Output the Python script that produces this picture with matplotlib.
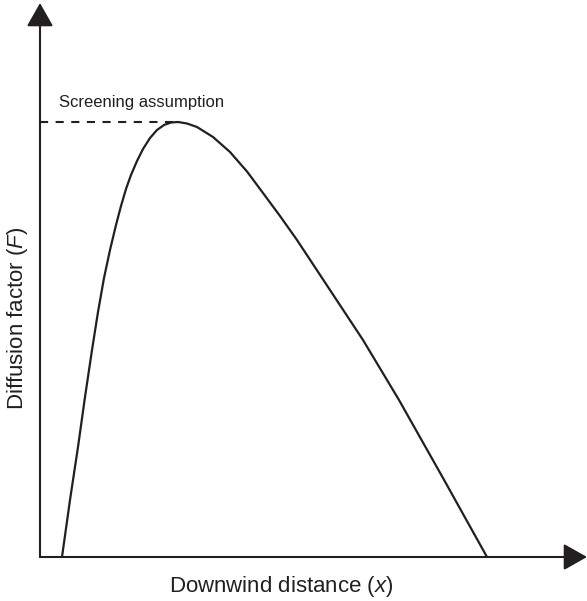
import numpy as np
import matplotlib
matplotlib.use("Agg")
import matplotlib.pyplot as plt

plt.rcParams['font.family'] = ['Liberation Sans', 'DejaVu Sans']
plt.rcParams['mathtext.fontset'] = 'custom'
plt.rcParams['mathtext.rm'] = 'Liberation Sans'
plt.rcParams['mathtext.it'] = 'Liberation Sans:italic'

# curve (arbitrary units, origin at the axes corner)
distance = [22, 30, 38, 45, 52, 58, 64, 70, 76, 81, 86, 91, 97, 103, 110, 117,
            124, 131, 138, 147, 157, 173, 190, 207, 223, 240, 257, 290, 323,
            359, 403, 447]
factor = [0, 57, 110, 160, 207, 245, 279, 307, 332, 351, 368, 382, 396, 408,
          419, 427, 432, 434.5, 435, 433.5, 430, 420, 405, 385.5, 364, 341, 317,
          267, 217, 157, 79, 0]

x_label = "Downwind distance ($x$)"
y_label = "Diffusion factor ($F$)"
note = "Screening assumption"

ink = '#231f20'

fig = plt.figure(figsize=(5.87, 6.01), dpi=100)
ax = fig.add_axes([40 / 587, 44 / 601, 547 / 587, 554 / 601])
ax.set_xlim(0, 547)
ax.set_ylim(0, 554)
for s in ax.spines.values():
    s.set_visible(False)
ax.set_xticks([])
ax.set_yticks([])

# axes with arrow heads
arrow = dict(arrowstyle='-|>,head_length=1.45,head_width=0.82', lw=1.5,
             color=ink, shrinkA=0, shrinkB=0, mutation_scale=10)
ax.annotate('', xy=(1, 0), xytext=(0, 0), xycoords='axes fraction', arrowprops=arrow)
ax.annotate('', xy=(0, 1), xytext=(0, 0), xycoords='axes fraction', arrowprops=arrow)

ax.plot(distance, factor, color=ink, lw=1.6, solid_joinstyle='round',
        solid_capstyle='butt')

# screening assumption = peak value
i_peak = int(np.argmax(factor))
ax.plot([0, distance[i_peak]], [factor[i_peak], factor[i_peak]], color=ink,
        lw=1.5, linestyle=(0, (3.9, 3.6)))
ax.text(19, 450, note, fontsize=12, color=ink, va='baseline')

fig.text(281 / 587, 1 - 592 / 601, x_label, fontsize=16, color=ink,
         ha='center', va='baseline')
fig.text(18 / 587, 1 - 318 / 601, y_label, fontsize=16, color=ink,
         ha='center', va='center', rotation=90)

fig.savefig('out.png', dpi=100, facecolor='white')
